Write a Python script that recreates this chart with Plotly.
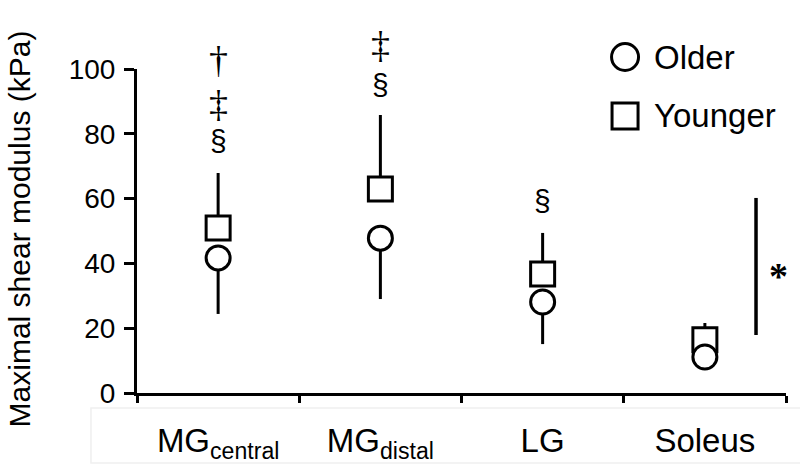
import plotly.graph_objects as go

# ---- data ----
categories = ["MG<sub>central</sub>", "MG<sub>distal</sub>", "LG", "Soleus"]
younger_mean = [50.9, 63.0, 36.7, 16.4]
younger_sd = [17.0, 22.8, 12.7, 5.2]
older_mean = [41.7, 47.8, 28.1, 11.1]
older_sd = [17.3, 18.8, 13.0, 4.0]
y_ticks = [0, 20, 40, 60, 80, 100]
y_max = 100
y_title = "Maximal shear modulus (kPa)"

# significance marks: (category, y, text)
sig_marks = [
    (categories[0], 77.8, "§"),
    (categories[0], 89.2, "‡"),
    (categories[0], 102.8, "†"),
    (categories[1], 95.1, "§"),
    (categories[1], 107.4, "‡"),
    (categories[2], 59.3, "§"),
]
star_range = [17.9, 60.2]
star_y = 36

FONT = "Liberation Sans, Arial, sans-serif"
SERIF = "Liberation Serif, Times New Roman, serif"

fig = go.Figure()

fig.add_trace(go.Scatter(
    x=categories, y=younger_mean, mode="markers", name="Younger",
    marker=dict(symbol="square", size=24, color="white",
                line=dict(color="black", width=3)),
    error_y=dict(type="data", symmetric=False, array=younger_sd,
                 arrayminus=[0] * len(younger_sd), color="black",
                 thickness=3, width=0),
    showlegend=False, cliponaxis=False,
))
fig.add_trace(go.Scatter(
    x=categories, y=older_mean, mode="markers", name="Older",
    marker=dict(symbol="circle", size=24, color="white",
                line=dict(color="black", width=3)),
    error_y=dict(type="data", symmetric=False, array=[0] * len(older_sd),
                 arrayminus=older_sd, color="black",
                 thickness=3, width=0),
    showlegend=False, cliponaxis=False,
))

annotations = []
for cat, yv, txt in sig_marks:
    if txt == "§":
        fnt = dict(family=FONT, size=30, color="black")
    else:
        fnt = dict(family=SERIF, size=38, color="black")
    annotations.append(dict(x=cat, y=yv / y_max, xref="x", yref="paper", text=txt,
                            showarrow=False, font=fnt,
                            xanchor="center", yanchor="middle"))

# star bracket
annotations.append(dict(x=0.989, y=star_y / y_max, xref="paper", yref="paper", text="<b>*</b>",
                        showarrow=False, font=dict(family=SERIF, size=38, color="black"),
                        xanchor="center", yanchor="middle"))

# legend labels
annotations.append(dict(x=0.7935, y=1.037, xref="paper", yref="paper", text="Older",
                        showarrow=False, font=dict(family=FONT, size=33, color="black"),
                        xanchor="left", yanchor="middle"))
annotations.append(dict(x=0.7935, y=0.855, xref="paper", yref="paper", text="Younger",
                        showarrow=False, font=dict(family=FONT, size=33, color="black"),
                        xanchor="left", yanchor="middle"))

# y axis title
annotations.append(dict(x=-0.1818, y=0.505, xref="paper", yref="paper", text=y_title,
                        textangle=-90, showarrow=False, borderpad=0,
                        font=dict(family=FONT, size=30, color="black"),
                        xanchor="center", yanchor="middle"))

shapes = [
    # star line
    dict(type="line", xref="paper", yref="y", x0=0.9538, x1=0.9538,
         y0=star_range[0], y1=star_range[1], line=dict(color="black", width=3.5)),
    # legend circle
    dict(type="circle", xref="paper", yref="paper", xsizemode="pixel", ysizemode="pixel",
         xanchor=0.752, yanchor=1.037, x0=-13.5, x1=13.5, y0=-13.5, y1=13.5,
         line=dict(color="black", width=3), fillcolor="white"),
    # legend square
    dict(type="rect", xref="paper", yref="paper", xsizemode="pixel", ysizemode="pixel",
         xanchor=0.752, yanchor=0.855, x0=-13, x1=13, y0=-13, y1=13,
         line=dict(color="black", width=3), fillcolor="white"),
    # light box around category labels
    dict(type="rect", xref="paper", yref="paper", x0=-0.0709, x1=1.05,
         y0=-0.216, y1=-0.0463, line=dict(color="#efefef", width=1.5),
         layer="below"),
]

fig.update_layout(
    width=800, height=464,
    margin=dict(l=137, r=14, t=69, b=71),
    paper_bgcolor="white", plot_bgcolor="white",
    font=dict(family=FONT, color="black"),
    annotations=annotations, shapes=shapes,
    showlegend=False,
)
fig.update_xaxes(
    type="category", categoryorder="array", categoryarray=categories,
    tickson="boundaries", ticks="outside", ticklen=7, tickwidth=2.5,
    tickcolor="black", showline=True, linecolor="black", linewidth=3,
    showgrid=False, zeroline=False, tickfont=dict(family=FONT, size=33),
    ticklabelstandoff=16, range=[-0.5, 3.5], automargin=False,
)
fig.update_yaxes(
    range=[0, y_max], tickvals=y_ticks, ticks="outside", ticklen=10, tickwidth=2.5,
    tickcolor="black", showline=True, linecolor="black", linewidth=3,
    showgrid=False, zeroline=False, tickfont=dict(family=FONT, size=28),
    ticklabelstandoff=3, automargin=False,
)

fig.write_html("out.html", config={"displayModeBar": False},
               post_script="document.body.style.margin='0';")
